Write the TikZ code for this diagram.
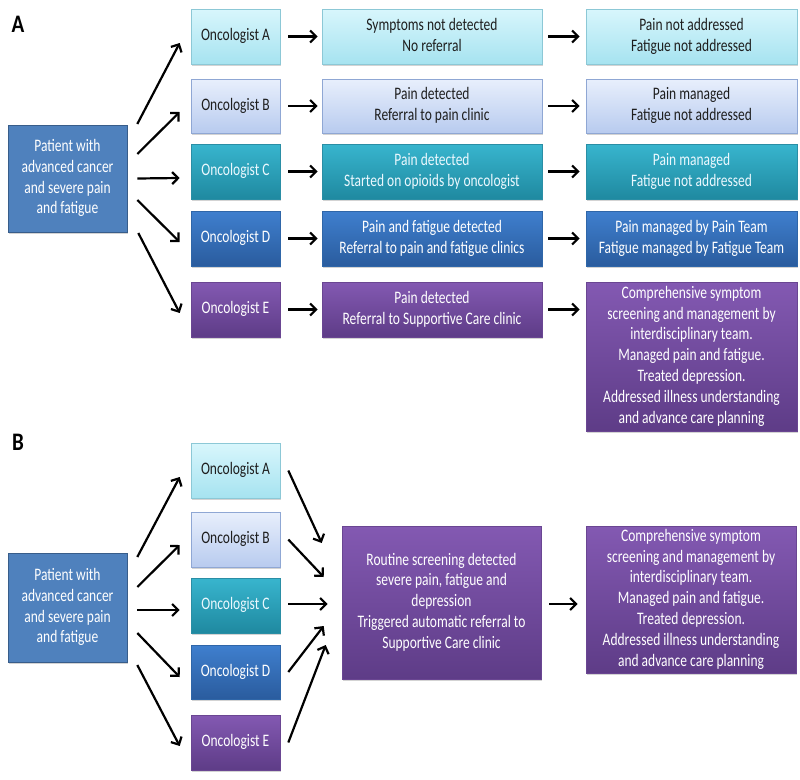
\documentclass[tikz,border=0pt]{standalone}
\usepackage{fontspec}
\usepackage{graphicx}
\setmainfont{Carlito}
\usetikzlibrary{arrows.meta,shadows}
\definecolor{aTop}{HTML}{D8F6FC}\definecolor{aBot}{HTML}{A6E3F0}\definecolor{aLine}{HTML}{8CC8D6}
\definecolor{bTop}{HTML}{E8EFFC}\definecolor{bBot}{HTML}{B8CBEF}\definecolor{bLine}{HTML}{8FA7D4}
\definecolor{cTop}{HTML}{38B5CE}\definecolor{cBot}{HTML}{1F89A0}\definecolor{cLine}{HTML}{2A8EA5}
\definecolor{dTop}{HTML}{3F7FCE}\definecolor{dBot}{HTML}{2A5C9E}\definecolor{dLine}{HTML}{2F66A8}
\definecolor{eTop}{HTML}{8359B2}\definecolor{eBot}{HTML}{5E3C87}\definecolor{eLine}{HTML}{6A4692}
\definecolor{pFill}{HTML}{4F81BD}\definecolor{pLine}{HTML}{385D8A}
\definecolor{darkTxt}{HTML}{1E1E1E}
\newcommand{\tl}[1]{\scalebox{1}[1.3]{\begin{tabular}{@{}c@{}}#1\end{tabular}}}
\begin{document}
\begin{tikzpicture}[x=1pt,y=-1pt,
  box/.style={rectangle, inner sep=0pt, align=center, line width=0.6pt,
    font=\fontsize{13.5}{16}\selectfont,
    drop shadow={opacity=0.35, shadow xshift=1.2pt, shadow yshift=-1.8pt}},
  rowa/.style={box, top color=aTop, bottom color=aBot, draw=aLine, text=darkTxt},
  rowb/.style={box, top color=bTop, bottom color=bBot, draw=bLine, text=darkTxt},
  rowc/.style={box, top color=cTop, bottom color=cBot, draw=cLine, text=white!92!cyan},
  rowd/.style={box, top color=dTop, bottom color=dBot, draw=dLine, text=white},
  rowe/.style={box, top color=eTop, bottom color=eBot, draw=eLine, text=white},
  patient/.style={box, fill=pFill, draw=pLine, text=white, minimum width=119pt},
  onc/.style={minimum width=89pt, minimum height=55pt},
  mid/.style={minimum width=220pt, minimum height=55pt},
  res/.style={minimum width=211pt, minimum height=55pt},
  arr/.style={line width=2.2pt, -{Straight Barb[length=6pt,width=12pt,line width=2.2pt]}},
  panel/.style={font=\fontsize{21}{24}\selectfont\bfseries}
]
\useasboundingbox (0,0) rectangle (800,779);

% ---------------- Panel A ----------------
\node[panel] (labA) at (18,24) {\scalebox{1}[1.2]{A}};
\node[patient, minimum height=107pt] (patA) at (67.5,178.5) {\tl{Patient with\\advanced cancer\\and severe pain\\and fatigue}};

\node[rowa,onc] (oAa) at (235.5,36.5) {\tl{Oncologist A}};
\node[rowb,onc,minimum height=54pt] (oAb) at (235.5,106) {\tl{Oncologist B}};
\node[rowc,onc] (oAc) at (235.5,171.5) {\tl{Oncologist C}};
\node[rowd,onc] (oAd) at (235.5,238.5) {\tl{Oncologist D}};
\node[rowe,onc] (oAe) at (235.5,309.5) {\tl{Oncologist E}};

\node[rowa,mid] (mAa) at (432,36.5) {\tl{Symptoms not detected\\No referral}};
\node[rowb,mid,minimum height=54pt] (mAb) at (432,106) {\tl{Pain detected\\Referral to pain clinic}};
\node[rowc,mid] (mAc) at (432,171.5) {\tl{Pain detected\\Started on opioids by oncologist}};
\node[rowd,mid] (mAd) at (432,238.5) {\tl{Pain and fatigue detected\\Referral to pain and fatigue clinics}};
\node[rowe,mid] (mAe) at (432,309.5) {\tl{Pain detected\\Referral to Supportive Care clinic}};

\node[rowa,res] (rAa) at (691.5,36.5) {\tl{Pain not addressed\\Fatigue not addressed}};
\node[rowb,res,minimum height=54pt] (rAb) at (691.5,106) {\tl{Pain managed\\Fatigue not addressed}};
\node[rowc,res] (rAc) at (691.5,171.5) {\tl{Pain managed\\Fatigue not addressed}};
\node[rowd,res] (rAd) at (691.5,238.5) {\tl{Pain managed by Pain Team\\Fatigue managed by Fatigue Team}};
\node[rowe,res,minimum height=149pt] (rAe) at (691.5,356.5) {\tl{Comprehensive symptom\\screening and management by\\interdisciplinary team.\\Managed pain and fatigue.\\Treated depression.\\Addressed illness understanding\\and advance care planning}};

\draw[arr] ([xshift=10pt,yshift=54.5pt]patA.east) -- ([xshift=-11pt,yshift=-6.5pt]oAa.west);
\draw[arr] ([xshift=10pt,yshift=24.5pt]patA.east) -- ([xshift=-11pt,yshift=-6pt]oAb.west);
\draw[arr] ([xshift=10pt]patA.east) -- ([xshift=-11pt,yshift=-6.5pt]oAc.west);
\draw[arr] ([xshift=10pt,yshift=-21.5pt]patA.east) -- ([xshift=-11pt,yshift=-3.5pt]oAd.west);
\draw[arr] ([xshift=11pt,yshift=-54.5pt]patA.east) -- ([xshift=-11pt,yshift=-3.5pt]oAe.west);

\foreach \r in {a,b,c,d,e}{
  \draw[arr] ([xshift=8pt]oA\r.east) -- ([xshift=-4pt]mA\r.west);
}
\foreach \r in {a,b,c,d}{
  \draw[arr] ([xshift=6pt]mA\r.east) -- ([xshift=-6pt]rA\r.west);
}
\draw[arr] ([xshift=6pt]mAe.east) -- ([xshift=-6pt]mAe.east -| rAe.west);

% ---------------- Panel B ----------------
\node[panel] (labB) at (18,442) {\scalebox{1}[1.2]{B}};
\node[patient, minimum height=109pt] (patB) at (67.5,607.5) {\tl{Patient with\\advanced cancer\\and severe pain\\and fatigue}};

\node[rowa,onc] (oBa) at (235.5,470.5) {\tl{Oncologist A}};
\node[rowb,onc] (oBb) at (235.5,539.5) {\tl{Oncologist B}};
\node[rowc,onc] (oBc) at (235.5,605.5) {\tl{Oncologist C}};
\node[rowd,onc,minimum height=54pt] (oBd) at (235.5,672) {\tl{Oncologist D}};
\node[rowe,onc] (oBe) at (235.5,742.5) {\tl{Oncologist E}};

\node[rowe, minimum width=199pt, minimum height=153pt] (cen) at (441.5,602.5) {\tl{Routine screening detected\\severe pain, fatigue and\\depression\\Triggered automatic referral to\\Supportive Care clinic}};
\node[rowe, minimum width=210pt, minimum height=147pt] (rB) at (691,599.5) {\tl{Comprehensive symptom\\screening and management by\\interdisciplinary team.\\Managed pain and fatigue.\\Treated depression.\\Addressed illness understanding\\and advance care planning}};

\draw[arr] ([xshift=10pt,yshift=50.5pt]patB.east) -- ([xshift=-11pt,yshift=-6.5pt]oBa.west);
\draw[arr] ([xshift=10pt,yshift=20.5pt]patB.east) -- ([xshift=-11pt,yshift=-5.5pt]oBb.west);
\draw[arr] ([xshift=10pt,yshift=-2.5pt]patB.east) -- ([xshift=-11pt,yshift=-4.5pt]oBc.west);
\draw[arr] ([xshift=10pt,yshift=-25.5pt]patB.east) -- ([xshift=-11pt,yshift=-5pt]oBd.west);
\draw[arr] ([xshift=10pt,yshift=-57.5pt]patB.east) -- ([xshift=-11pt,yshift=-3.5pt]oBe.west);

\draw[arr] ([xshift=8pt]oBa.east) -- ([xshift=-20pt,yshift=59.5pt]cen.west);
\draw[arr] ([xshift=8pt]oBb.east) -- ([xshift=-18pt,yshift=25.5pt]cen.west);
\draw[arr] ([xshift=8pt,yshift=1.5pt]oBc.east) -- ([xshift=-14pt,yshift=-1.5pt]cen.west);
\draw[arr] ([xshift=8pt]oBd.east) -- ([xshift=-18pt,yshift=-23.5pt]cen.west);
\draw[arr] ([xshift=8pt]oBe.east) -- ([xshift=-16pt,yshift=-42.5pt]cen.west);

\draw[arr] ([xshift=8pt,yshift=-1.5pt]cen.east) -- ([xshift=-8pt,yshift=-4.5pt]rB.west);
\end{tikzpicture}
\end{document}
